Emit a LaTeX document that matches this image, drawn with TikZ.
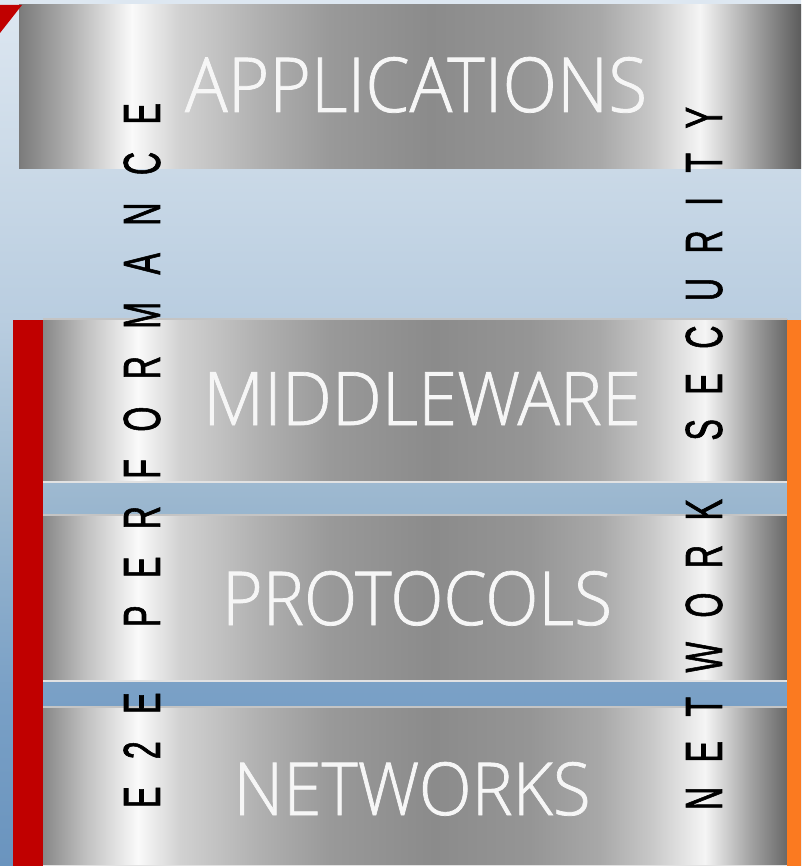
\documentclass[tikz,border=0pt]{standalone}
\usepackage{fontspec}
\usepackage{graphicx}
\setmainfont{Liberation Sans}
\newfontfamily\labelfont{Open Sans}[UprightFont={* Light}, BoldFont={* Light}, BoldFeatures={FakeBold=1.0}]
\newfontfamily\sidefont{Liberation Sans}[BoldFont={Liberation Sans}, BoldFeatures={FakeBold=1.6}]

% light steel-blue backdrop, darker towards the bottom
\pgfdeclareverticalshading{backdrop}{100bp}{%
  rgb(0bp)=(0.416,0.580,0.745); rgb(25bp)=(0.416,0.580,0.745);
  rgb(34.87bp)=(0.475,0.627,0.776); rgb(46.13bp)=(0.608,0.718,0.812);
  rgb(56.64bp)=(0.725,0.804,0.878); rgb(65.18bp)=(0.792,0.851,0.906);
  rgb(75bp)=(0.867,0.906,0.945); rgb(100bp)=(0.867,0.906,0.945)}

% metallic cylinder look of the top layer
\pgfdeclarehorizontalshading{topmetal}{100bp}{%
  rgb(0bp)=(0.48,0.48,0.48); rgb(25bp)=(0.48,0.48,0.48);
  rgb(28.26bp)=(0.69,0.69,0.69); rgb(32.23bp)=(0.98,0.98,0.98);
  rgb(35.29bp)=(0.82,0.82,0.82); rgb(40.41bp)=(0.69,0.69,0.69);
  rgb(44.89bp)=(0.60,0.60,0.60); rgb(51.28bp)=(0.545,0.545,0.545);
  rgb(57.67bp)=(0.585,0.585,0.585); rgb(62.15bp)=(0.66,0.66,0.66);
  rgb(65.35bp)=(0.78,0.78,0.78); rgb(68.54bp)=(0.96,0.96,0.96);
  rgb(71.74bp)=(0.66,0.66,0.66); rgb(75bp)=(0.36,0.36,0.36);
  rgb(100bp)=(0.36,0.36,0.36)}

% metallic look of the three lower layers
\pgfdeclarehorizontalshading{layermetal}{100bp}{%
  rgb(0bp)=(0.53,0.53,0.53); rgb(25bp)=(0.53,0.53,0.53);
  rgb(27.82bp)=(0.75,0.75,0.75); rgb(31.38bp)=(0.98,0.98,0.98);
  rgb(34.21bp)=(0.82,0.82,0.82); rgb(39.58bp)=(0.69,0.69,0.69);
  rgb(44.29bp)=(0.60,0.60,0.60); rgb(51.28bp)=(0.545,0.545,0.545);
  rgb(57.73bp)=(0.585,0.585,0.585); rgb(62.43bp)=(0.66,0.66,0.66);
  rgb(65.79bp)=(0.78,0.78,0.78); rgb(69.49bp)=(0.96,0.96,0.96);
  rgb(72.51bp)=(0.64,0.64,0.64); rgb(75bp)=(0.41,0.41,0.41);
  rgb(100bp)=(0.41,0.41,0.41)}

\definecolor{perfred}{HTML}{C00000}
\definecolor{secorange}{HTML}{FB7A20}
\definecolor{edgetop}{HTML}{C4C4C4}
\definecolor{edgebottom}{HTML}{E2E2E2}
\definecolor{labelwhite}{HTML}{F6F6F6}

% letters spread evenly over a given length, narrowed horizontally
\newcommand{\sidetext}[2]{\scalebox{0.62}[1]{\makebox[#1][s]{#2}}}

\begin{document}
\begin{tikzpicture}[x=1pt,y=-1pt,
  barlabel/.style={anchor=base, inner sep=0pt, text=labelwhite,
    font={\labelfont\bfseries\fontsize{70}{80}\selectfont}},
  sidelabel/.style={rotate=90, inner sep=0pt, text=black,
    font={\sidefont\bfseries\fontsize{52}{60}\selectfont}},
  edgeline/.style={line width=1.2pt}]

\useasboundingbox (0,0) rectangle (801,866);

% backdrop
\shade[shading=backdrop] (0,0) rectangle (801,866);

% top layer
\shade[shading=topmetal] (19,5) rectangle (801,169);
\fill[perfred] (0,5) -- (22,5) -- (0,33) -- cycle;

% lower layers
\foreach \ytop/\ybot in {319/482, 515/681, 707/866}{
  \shade[shading=layermetal] (43,\ytop) rectangle (787,\ybot);
  \draw[edgeline, edgetop] (43,\ytop) -- (787,\ytop);
  \draw[edgeline, edgebottom] (43,\ybot) -- (787,\ybot);
}

% side pillars
\fill[perfred] (13,320) rectangle (43,866);
\fill[secorange] (787,320) rectangle (801,866);

% layer names
\node[barlabel] (apps) at (416,112) {\resizebox{462pt}{55pt}{APPLICATIONS}};
\node[barlabel] (mid)  at (422,425) {\resizebox{438pt}{53pt}{MIDDLEWARE}};
\node[barlabel] (prot) at (417,625) {\resizebox{390pt}{54pt}{PROTOCOLS}};
\node[barlabel] (net)  at (412,815) {\resizebox{357pt}{53pt}{NETWORKS}};

% vertical cross-layer labels
\node[sidelabel] (perf) at (142,455.5) {\sidetext{1137pt}{E\hfill 2\hfill E\hspace{\stretch{2.4}}P\hfill E\hfill R\hfill F\hfill O\hfill R\hfill M\hfill A\hfill N\hfill C\hfill E}};
\node[sidelabel] (sec) at (704,458.5) {\sidetext{1134pt}{N\hfill E\hfill T\hfill W\hfill O\hfill R\hfill K\hspace{\stretch{2.4}}S\hfill E\hfill C\hfill U\hfill R\hfill I\hfill T\hfill Y}};

\end{tikzpicture}
\end{document}
